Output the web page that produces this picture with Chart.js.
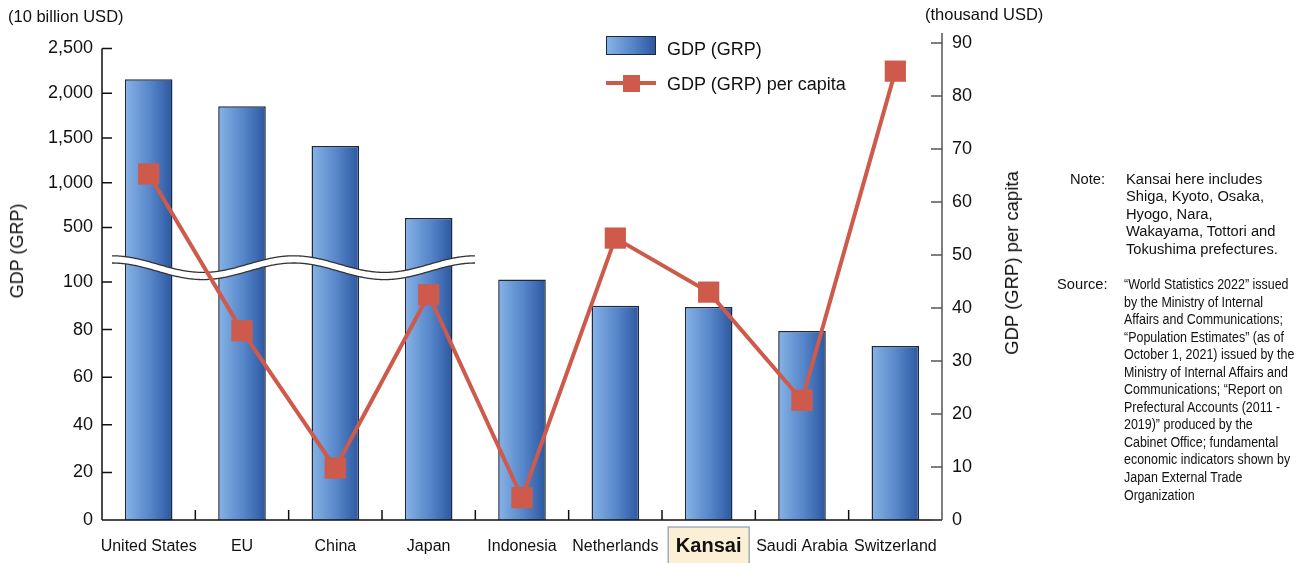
<!DOCTYPE html>
<html>
<head>
<meta charset="utf-8">
<title>GDP (GRP) comparison</title>
<script src="https://cdn.jsdelivr.net/npm/chart.js@4.4.0/dist/chart.umd.min.js"></script>
<style>
  body { margin: 0; background: #fff; font-family: "Liberation Sans", Arial, sans-serif; color: #111; }
  #wrap { position: relative; width: 1303px; height: 563px; overflow: hidden; }
  #gdpChart { position: absolute; left: 0; top: 0; }
  .txt { position: absolute; white-space: nowrap; }
  .unit { font-size: 16.5px; line-height: 16.5px; }
  .ytitle { transform: translate(-50%, -50%) rotate(-90deg); line-height: 20px; }
  .legend-text { font-size: 18px; line-height: 18px; }
  .legend-bar { position: absolute; left: 606px; top: 36px; width: 48px; height: 17px;
    border: 1.5px solid #1c2740; background: linear-gradient(to right, #86b3e6, #5584c8 55%, #2c57a0); }
  .legend-line { position: absolute; left: 606px; top: 81px; width: 50px; height: 4px; background: #cd5a4b; }
  .legend-mark { position: absolute; left: 623px; top: 75px; width: 17px; height: 17px; background: #cd5a4b; }
  .note { font-size: 14.7px; line-height: 17.4px; }
  .source { font-size: 15.2px; line-height: 17.55px; transform: scaleX(0.82); transform-origin: 0 0; }
</style>
</head>
<body>
<div id="wrap">
  <canvas id="gdpChart" width="1303" height="563"></canvas>

  <div class="txt unit" style="left:8px; top:8px;">(10 billion USD)</div>
  <div class="txt unit" style="left:925px; top:5.5px;">(thousand USD)</div>

  <div class="txt ytitle" style="left:17px; top:251px; font-size:18px;">GDP (GRP)</div>
  <div class="txt ytitle" style="left:1012px; top:263px; font-size:18.5px;">GDP (GRP) per capita</div>

  <div class="legend-bar"></div>
  <div class="txt legend-text" style="left:667px; top:40px;">GDP (GRP)</div>
  <div class="legend-line"></div>
  <div class="legend-mark"></div>
  <div class="txt legend-text" style="left:667px; top:75px;">GDP (GRP) per capita</div>

  <div class="txt note" style="left:1070px; top:171px;">Note:</div>
  <div class="txt note" style="left:1126px; top:171px;">Kansai here includes<br>Shiga, Kyoto, Osaka,<br>Hyogo, Nara,<br>Wakayama, Tottori and<br>Tokushima prefectures.</div>

  <div class="txt note" style="left:1057px; top:276px;">Source:</div>
  <div class="txt source" style="left:1124px; top:275px;">“World Statistics 2022” issued<br>by the Ministry of Internal<br>Affairs and Communications;<br>“Population Estimates” (as of<br>October 1, 2021) issued by the<br>Ministry of Internal Affairs and<br>Communications; “Report on<br>Prefectural Accounts (2011 -<br>2019)” produced by the<br>Cabinet Office; fundamental<br>economic indicators shown by<br>Japan External Trade<br>Organization</div>
</div>

<script>
  // categories and values
  const countries = ["United States", "EU", "China", "Japan", "Indonesia",
    "Netherlands", "Kansai", "Saudi Arabia", "Switzerland"];
  const gdp = [2155, 1855, 1410, 606, 101, 90, 89.5, 79.4, 73.1];           // 10 billion USD
  const gdpPerCapita = [65.3, 35.7, 9.8, 42.5, 4.2, 53.2, 43.0, 22.6, 84.7]; // thousand USD
  const leftTicks = [0, 20, 40, 60, 80, 100, 500, 1000, 1500, 2000, 2500];
  const rightTicks = [0, 10, 20, 30, 40, 50, 60, 70, 80, 90];
  const kansaiIndex = 6;

  // broken left axis: 0-100 linear, then a jump, then 500-2500 in steps of 500
  const BREAK_AT = 500;
  const UPPER_START = 122.9;   // where 500 sits on the virtual axis
  const UPPER_STEP = 18.8;     // virtual units per 500
  const VIRTUAL_TOP = 204.6;
  const RIGHT_TOP = 91.9;

  function toVirtual(v) {
    if (v < BREAK_AT) return v;
    return UPPER_START + (v - BREAK_AT) / 500 * UPPER_STEP;
  }
  function fromVirtual(p) {
    if (p < UPPER_START) return p;
    return BREAK_AT + (p - UPPER_START) / UPPER_STEP * 500;
  }

  class BrokenLinearScale extends Chart.LinearScale {
    getPixelForValue(value) {
      return super.getPixelForValue(toVirtual(value));
    }
    getValueForPixel(pixel) {
      return fromVirtual(super.getValueForPixel(pixel));
    }
  }
  BrokenLinearScale.id = "brokenLinear";
  BrokenLinearScale.defaults = Chart.LinearScale.defaults;
  Chart.register(BrokenLinearScale);

  Chart.defaults.font.family = "'Liberation Sans', Arial, sans-serif";
  Chart.defaults.color = "#111";

  const barFill = (c) => {
    const chart = c.chart;
    const xs = chart.scales.x;
    if (!xs || c.dataIndex === undefined) return "#5584c8";
    const cx = xs.getPixelForValue(c.dataIndex);
    const half = xs.width / countries.length * 0.51 / 2;
    if (!Number.isFinite(cx) || !Number.isFinite(half) || half <= 0) return "#5584c8";
    const g = chart.ctx.createLinearGradient(cx - half, 0, cx + half, 0);
    g.addColorStop(0, "#86b3e6");
    g.addColorStop(0.55, "#5584c8");
    g.addColorStop(1, "#2c57a0");
    return g;
  };

  // axis lines, inward tick marks, the Kansai label box and the axis-break wave
  const axisDecor = {
    id: "axisDecor",
    beforeDraw(chart) {
      const ctx = chart.ctx, xs = chart.scales.x;
      const cx = xs.getPixelForValue(kansaiIndex);
      ctx.save();
      ctx.fillStyle = "#fbf0d5";
      ctx.strokeStyle = "#8c9bb0";
      ctx.lineWidth = 1.2;
      ctx.fillRect(cx - 40.5, xs.top + 7, 81, 40);
      ctx.strokeRect(cx - 40.5, xs.top + 7, 81, 40);
      ctx.restore();
    },
    afterDatasetDraw(chart, args) {
      if (args.index !== 0) return;
      const ctx = chart.ctx, xs = chart.scales.x, ys = chart.scales.y;
      const step = xs.width / countries.length;
      const xStart = chart.chartArea.left + 10;
      const xEnd = xs.getPixelForValue(3) + step / 2;
      const period = (xEnd - xStart) / 2;
      const yc = ys.getPixelForValue(106);
      const amp = 8.3, gap = 3.6;
      const wave = (x, off) => yc + off - amp * Math.cos(2 * Math.PI * (x - xStart) / period);
      ctx.save();
      ctx.beginPath();
      for (let x = xStart; x <= xEnd; x += 1) ctx.lineTo(x, wave(x, -gap));
      for (let x = xEnd; x >= xStart; x -= 1) ctx.lineTo(x, wave(x, gap));
      ctx.closePath();
      ctx.fillStyle = "#fff";
      ctx.fill();
      ctx.strokeStyle = "#333";
      ctx.lineWidth = 1.3;
      [-gap, gap].forEach((off) => {
        ctx.beginPath();
        for (let x = xStart; x <= xEnd; x += 1) ctx.lineTo(x, wave(x, off));
        ctx.stroke();
      });
      ctx.restore();
    },
    afterDraw(chart) {
      const ctx = chart.ctx, a = chart.chartArea;
      const xs = chart.scales.x, ys = chart.scales.y, yr = chart.scales.y1;
      const step = xs.width / countries.length;
      ctx.save();
      ctx.lineWidth = 1.5;
      // left axis
      ctx.strokeStyle = "#111";
      ctx.beginPath();
      ctx.moveTo(a.left, ys.getPixelForValue(2500));
      ctx.lineTo(a.left, a.bottom);
      leftTicks.forEach((t) => {
        const y = ys.getPixelForValue(t);
        ctx.moveTo(a.left, y);
        ctx.lineTo(a.left + 10, y);
      });
      // x axis with ticks between categories
      ctx.moveTo(a.left, a.bottom);
      ctx.lineTo(a.right, a.bottom);
      for (let i = 1; i < countries.length; i++) {
        const x = a.left + i * step;
        ctx.moveTo(x, a.bottom);
        ctx.lineTo(x, a.bottom - 10);
      }
      ctx.stroke();
      // right axis
      ctx.strokeStyle = "#555";
      ctx.beginPath();
      ctx.moveTo(a.right, a.top);
      ctx.lineTo(a.right, a.bottom);
      rightTicks.forEach((t) => {
        const y = yr.getPixelForValue(t);
        ctx.moveTo(a.right, y);
        ctx.lineTo(a.right - 11, y);
      });
      ctx.stroke();
      ctx.restore();
    }
  };

  new Chart(document.getElementById("gdpChart"), {
    data: {
      labels: countries,
      datasets: [
        {
          type: "bar",
          label: "GDP (GRP)",
          data: gdp,
          yAxisID: "y",
          order: 1,
          backgroundColor: barFill,
          borderColor: "#1c2740",
          borderWidth: 1.5,
          categoryPercentage: 1,
          barPercentage: 0.51,
        },
        {
          type: "line",
          label: "GDP (GRP) per capita",
          data: gdpPerCapita,
          yAxisID: "y1",
          order: 0,
          borderColor: "#cd5a4b",
          borderWidth: 4,
          pointStyle: "rect",
          pointRadius: 15,
          pointBorderWidth: 0,
          pointBackgroundColor: "#cd5a4b",
          tension: 0,
        },
      ],
    },
    options: {
      responsive: false,
      animation: false,
      devicePixelRatio: 1,
      layout: { padding: { left: 0, right: 278, top: 33, bottom: 0 } },
      plugins: { legend: { display: false }, tooltip: { enabled: false } },
      scales: {
        x: {
          type: "category",
          grid: { display: false, drawTicks: false },
          border: { display: false },
          afterFit: (s) => { s.height = 43; },
          ticks: {
            autoSkip: false,
            maxRotation: 0,
            padding: 16.5,
            color: "#111",
            font: (c) => c.index === kansaiIndex
              ? { size: 20, weight: "bold", lineHeight: 1.0 }
              : { size: 16, lineHeight: 1.2 },
          },
        },
        y: {
          type: "brokenLinear",
          position: "left",
          min: 0,
          max: VIRTUAL_TOP,
          grid: { display: false, drawTicks: false },
          border: { display: false },
          afterBuildTicks: (s) => { s.ticks = leftTicks.map((v) => ({ value: v })); },
          afterFit: (s) => { s.width = 102; },
          ticks: {
            autoSkip: false,
            padding: 9,
            font: { size: 18 },
            callback: (v) => v.toLocaleString("en-US"),
          },
        },
        y1: {
          type: "linear",
          position: "right",
          min: 0,
          max: RIGHT_TOP,
          grid: { display: false, drawTicks: false },
          border: { display: false },
          afterBuildTicks: (s) => { s.ticks = rightTicks.map((v) => ({ value: v })); },
          afterFit: (s) => { s.width = 83; },
          ticks: { autoSkip: false, padding: 10, font: { size: 18 } },
        },
      },
    },
    plugins: [axisDecor],
  });
</script>
</body>
</html>
